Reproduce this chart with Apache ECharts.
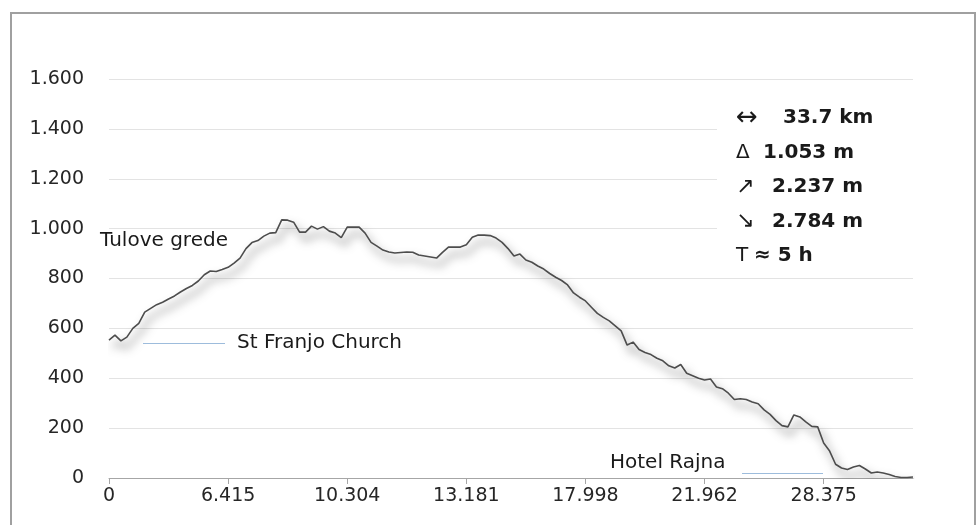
<!DOCTYPE html>
<html>
<head>
<meta charset="utf-8">
<script src="https://cdn.jsdelivr.net/npm/echarts@6/dist/echarts.min.js"></script>
<style>
  html, body { margin: 0; padding: 0; background: #fff; }
  #main { width: 980px; height: 525px; }
</style>
</head>
<body>
<div id="main"></div>
<script>
// distance labels shown under every 20th profile point
const tickLabels = ['0', '6.415', '10.304', '13.181', '17.998', '21.962', '28.375'];
const pointsPerTick = 20;

// elevation profile (m)
const elevation = [
  553, 573, 550, 565, 600, 620, 665, 680, 695, 705,
  718, 730, 746, 760, 772, 790, 815, 830, 828, 836,
  845, 862, 882, 920, 944, 952, 970, 982, 984, 1035,
  1034, 1026, 986, 986, 1010, 998, 1008, 990, 982, 964,
  1006, 1006, 1006, 982, 945, 930, 914, 906, 902, 904,
  906, 905, 894, 890, 886, 882, 905, 926, 926, 926,
  935, 965, 974, 974, 972, 962, 945, 920, 890, 898,
  874, 865, 850, 838, 820, 805, 792, 774, 742, 725,
  710, 685, 660, 644, 630, 610, 590, 533, 545, 515,
  503, 495, 480, 470, 450, 441, 455, 420, 410, 400,
  393, 397, 365, 358, 340, 315, 318, 315, 305, 298,
  273, 255, 230, 210, 205, 253, 245, 225, 207, 205,
  140, 108, 55, 40, 34, 44, 50, 36, 20, 24,
  20, 14, 6, 2, 2, 4
];

// summary box on the right
const infoSymbols = ['↔', 'Δ', '↗', '↘', 'T'];
const infoValues = ['33.7 km', '1.053 m', '2.237 m', '2.784 m', '≈ 5 h'];

// place names
const placeNames = ['Tulove grede', 'St Franjo Church', 'Hotel Rajna'];

const FONT = 'DejaVu Sans';
const chart = echarts.init(document.getElementById('main'));

const xIndex = elevation.map((v, i) => i);

function fmtThousands(v) {
  // 1600 -> 1.600
  return String(v).replace(/\B(?=(\d{3})+(?!\d))/g, '.');
}

// symbol column: each symbol gets its own box so the values line up like the original
const symWidth = [47, 27, 36, 36, 18];
const symSize = [26, 20, 22, 22, 20];
const infoRich = {
  v: { fontFamily: FONT, fontSize: 20, fontWeight: 'bold', lineHeight: 34.5, fill: '#1a1a1a' }
};
infoSymbols.forEach((s, i) => {
  infoRich['s' + i] = {
    fontFamily: FONT, fontSize: symSize[i], lineHeight: 34.5, fill: '#1a1a1a', width: symWidth[i]
  };
});
const infoText = infoSymbols.map((s, i) => `{s${i}|${s}}{v|${infoValues[i]}}`).join('\n');

const option = {
  backgroundColor: '#fff',
  animation: false,
  grid: { left: 109, right: 67, top: 79, bottom: 47 },
  xAxis: {
    type: 'category',
    data: xIndex,
    boundaryGap: false,
    axisLine: { lineStyle: { color: '#a6a6a6', width: 1 } },
    axisTick: { interval: pointsPerTick - 1, length: 6, lineStyle: { color: '#a6a6a6' } },
    axisLabel: {
      interval: pointsPerTick - 1,
      margin: 9,
      color: '#262626',
      fontFamily: FONT,
      fontSize: 19,
      formatter: (v, i) => (i % pointsPerTick === 0 ? (tickLabels[i / pointsPerTick] ?? '') : '')
    },
    splitLine: { show: false }
  },
  yAxis: {
    type: 'value',
    min: 0,
    max: 1600,
    interval: 200,
    axisLine: { show: false },
    axisTick: { show: false },
    axisLabel: {
      margin: 25,
      color: '#262626',
      fontFamily: FONT,
      fontSize: 19,
      formatter: fmtThousands
    },
    splitLine: { lineStyle: { color: '#e3e3e3', width: 1 } }
  },
  series: [
    {
      type: 'line',
      data: elevation,
      symbol: 'none',
      smooth: false,
      lineStyle: {
        color: '#4d4d4d',
        width: 1.6,
        shadowColor: 'rgba(0,0,0,0.7)',
        shadowBlur: 10,
        shadowOffsetX: 4,
        shadowOffsetY: 7
      },
      z: 3
    }
  ],
  graphic: [
    // chart frame
    {
      type: 'rect',
      shape: { x: 11, y: 13, width: 964, height: 540 },
      style: { fill: 'none', stroke: '#a0a0a0', lineWidth: 2 },
      z: 100
    },
    // white box behind the summary
    {
      type: 'rect',
      shape: { x: 717, y: 98, width: 200, height: 172 },
      style: { fill: '#fff' },
      z: 10
    },
    {
      type: 'text',
      x: 736,
      y: 101,
      z: 11,
      style: {
        text: infoText,
        fontFamily: FONT,
        lineHeight: 34.5,
        fill: '#1a1a1a',
        rich: infoRich
      }
    },
    // place names with their short marker lines
    {
      type: 'text', x: 100, y: 241, z: 11,
      style: { text: placeNames[0], fontFamily: FONT, fontSize: 20, fill: '#1a1a1a', verticalAlign: 'middle' }
    },
    {
      type: 'line', z: 11,
      shape: { x1: 143, y1: 343.5, x2: 225, y2: 343.5 },
      style: { stroke: '#9dbcdc', lineWidth: 1.2 }
    },
    {
      type: 'text', x: 237, y: 343, z: 11,
      style: { text: placeNames[1], fontFamily: FONT, fontSize: 20, fill: '#1a1a1a', verticalAlign: 'middle' }
    },
    {
      type: 'text', x: 610, y: 463, z: 11,
      style: { text: placeNames[2], fontFamily: FONT, fontSize: 20, fill: '#1a1a1a', verticalAlign: 'middle' }
    },
    {
      type: 'line', z: 11,
      shape: { x1: 742, y1: 473.5, x2: 823, y2: 473.5 },
      style: { stroke: '#9dbcdc', lineWidth: 1.2 }
    }
  ]
};

chart.setOption(option);
</script>
</body>
</html>
